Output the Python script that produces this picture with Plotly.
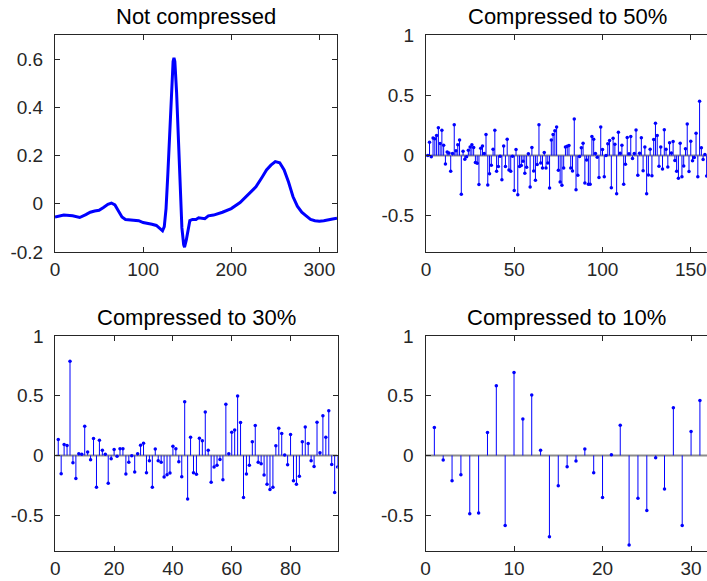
import plotly.graph_objects as go

# ---------------- data ----------------
ecg_x = [0, 5, 10, 20, 28, 35, 40, 45, 50, 55, 60, 64, 68, 72, 76, 80, 85, 90, 95, 100,
         105, 110, 115, 119, 122, 124, 126, 128, 130, 132, 134, 135, 136, 138, 140, 142,
         144, 146, 147, 149, 151, 153, 156, 160, 163, 166, 170, 174, 180, 190, 200, 210,
         220, 228, 235, 240, 245, 250, 255, 260, 265, 270, 275, 280, 285, 290, 295, 300,
         305, 310, 315, 320]
ecg_y = [-0.055, -0.05, -0.047, -0.05, -0.057, -0.045, -0.035, -0.03, -0.027, -0.015,
         -0.002, 0.003, -0.005, -0.03, -0.055, -0.065, -0.066, -0.066, -0.07, -0.078,
         -0.08, -0.085, -0.09, -0.105, -0.112, -0.095, -0.02, 0.12, 0.3, 0.47, 0.59, 0.605,
         0.59, 0.46, 0.25, 0.05, -0.1, -0.17, -0.18, -0.15, -0.1, -0.07, -0.065, -0.065,
         -0.058, -0.06, -0.062, -0.05, -0.047, -0.035, -0.02, 0.005, 0.04, 0.07, 0.11,
         0.14, 0.16, 0.175, 0.17, 0.14, 0.09, 0.03, -0.01, -0.035, -0.05, -0.065, -0.07,
         -0.072, -0.07, -0.065, -0.063, -0.06]

c50 = [0, 0.11, -0.01, 0.145, 0.14, 0.167, 0.23, 0.10, 0.21, 0.086,
       -0.07, 0.03, 0.022, -0.13, 0.017, 0.255, 0.04, 0.09, 0.13, -0.32,
       0.036, -0.03, -0.01, 0.044, 0.07, 0.09, 0.067, -0.058, -0.064, -0.24,
       0.06, 0.08, 0.017, 0.175, -0.245, -0.15, -0.08, 0.053, 0.21, -0.13,
       -0.09, -0.005, -0.2, 0.08, -0.09, 0.135, -0.12, -0.13, -0.005, -0.29,
       0.05, -0.325, -0.09, -0.083, -0.047, -0.147, -0.097, 0.014, -0.26, 0.067,
       -0.128, -0.205, -0.075, 0.255, -0.061, -0.103, 0.025, -0.103, -0.061, -0.27,
       0.13, 0.175, 0.205, 0.236, -0.122, -0.22, -0.247, -0.103, 0.07, 0.078,
       0.083, -0.103, -0.128, 0.303, -0.283, -0.164, -0.008, 0.064, 0.103, -0.228,
       -0.036, -0.239, -0.239, 0.158, 0.136, 0.017, -0.014, -0.183, 0.236, 0.05,
       -0.175, 0.0, 0.097, 0.125, -0.267, 0.144, 0.094, -0.317, 0.194, 0.019,
       0.086, -0.239, -0.072, 0.15, 0.014, 0.158, -0.025, 0.017, 0.211, -0.164,
       0.019, 0.147, -0.125, 0.072, -0.317, -0.161, 0.053, -0.167, 0.133, 0.267,
       0.167, -0.089, 0.072, -0.111, 0.214, 0.053, -0.094, 0.106, 0.022, 0.117,
       -0.042, -0.131, -0.189, 0.103, -0.175, -0.086, 0.056, 0.261, -0.133, 0.119,
       -0.044, -0.017, 0.186, -0.175, 0.45, 0.064, -0.033, 0.008, -0.169, -0.05]

c30 = [0.133, -0.153, 0.092, 0.083, 0.789, -0.061, -0.194, 0.014, 0.011, 0.244,
       0.028, -0.036, 0.142, -0.267, 0.128, 0.044, 0.011, -0.233, -0.028, 0.05,
       -0.006, 0.056, 0.056, -0.156, -0.058, -0.003, -0.139, 0.014, 0.086, 0.103,
       -0.144, -0.044, -0.267, 0.053, -0.044, -0.056, -0.181, -0.161, -0.147, 0.078,
       0.056, -0.053, -0.178, 0.45, -0.364, 0.153, -0.144, -0.158, 0.144, 0.122,
       0.364, 0.044, -0.225, -0.097, -0.083, -0.033, -0.203, 0.428, 0.014, 0.194,
       0.214, 0.497, 0.275, -0.353, -0.156, -0.083, 0.114, 0.25, -0.056, -0.069,
       -0.164, -0.242, -0.286, -0.267, 0.081, 0.228, 0.183, 0.003, -0.078, 0.175,
       -0.211, -0.242, -0.175, 0.114, 0.239, 0.1, -0.044, -0.092, 0.278, 0.022,
       0.333, 0.153, 0.375, -0.075, -0.311, -0.097]

c10 = [0.233, -0.039, -0.211, -0.161, -0.489, -0.481, 0.192, 0.583, -0.586, 0.694,
       0.306, 0.506, 0.044, -0.681, -0.253, -0.094, -0.047, 0.053, -0.144, -0.353,
       0.006, 0.253, -0.75, -0.358, -0.461, -0.019, -0.281, 0.4, -0.586, 0.2,
       0.461, -0.1]

titles = ["Not compressed", "Compressed to 50%", "Compressed to 30%", "Compressed to 10%"]

W, H = 707, 581
BLUE = "#0000ff"
FONT = "Liberation Sans, Arial, Helvetica, sans-serif"
AX = "#262626"

fig = go.Figure()

# ECG line
fig.add_trace(go.Scatter(x=ecg_x, y=ecg_y, mode="lines", line=dict(color=BLUE, width=3),
                         xaxis="x", yaxis="y", showlegend=False, hoverinfo="skip"))


def add_stem(vals, xa, ya, xmax):
    n = list(range(1, len(vals) + 1))
    sx, sy = [], []
    for i, v in zip(n, vals):
        sx += [i, i, None]
        sy += [0, v, None]
    fig.add_trace(go.Scatter(x=[0, xmax], y=[0, 0], mode="lines",
                             line=dict(color="#8c8c8c", width=2),
                             xaxis=xa, yaxis=ya, showlegend=False, hoverinfo="skip"))
    fig.add_trace(go.Scatter(x=sx, y=sy, mode="lines", line=dict(color=BLUE, width=1),
                             xaxis=xa, yaxis=ya, showlegend=False, hoverinfo="skip"))
    fig.add_trace(go.Scatter(x=n, y=vals, mode="markers",
                             marker=dict(color=BLUE, size=3.5),
                             xaxis=xa, yaxis=ya, showlegend=False, hoverinfo="skip"))


add_stem(c50, "x2", "y2", 160)
add_stem(c30, "x3", "y3", 96)
add_stem(c10, "x4", "y4", 32)

# pixel geometry -> paper domains
def xd(a, b):
    return [a / W, min(b / W, 1.0)]

def yd(top, bot):
    return [(H - bot) / H, (H - top) / H]

common_axis = dict(showgrid=False, zeroline=False, showline=True, linecolor=AX, linewidth=1,
                   ticks="inside", ticklen=5, tickcolor=AX, automargin=False,
                   tickfont=dict(family=FONT, size=19, color=AX))
yextra = dict(ticklabelstandoff=7)

yt1 = [-0.2, 0, 0.2, 0.4, 0.6]
yt1_txt = ["-0.2", "0", "0.2", "0.4", "0.6"]
yt2 = [-0.5, 0, 0.5, 1]
yt2_txt = ["-0.5", "0", "0.5", "1"]

fig.update_layout(
    width=W, height=H, autosize=False, margin=dict(l=0, r=0, t=0, b=0, pad=0),
    paper_bgcolor="white", plot_bgcolor="white",
    xaxis=dict(domain=xd(55, 337), range=[0, 320], anchor="y", mirror="ticks",
               tickvals=[0, 100, 200, 300], **common_axis),
    yaxis=dict(domain=yd(35, 252), range=[-0.2, 0.7], anchor="x", mirror="ticks",
               tickvals=yt1, ticktext=yt1_txt, **common_axis, **yextra),
    xaxis2=dict(domain=xd(426, 707), range=[0, 159.2], anchor="y2", mirror="ticks",
                tickvals=[0, 50, 100, 150], **common_axis),
    yaxis2=dict(domain=yd(35, 252), range=[-0.8, 1], anchor="x2", mirror=False,
                tickvals=yt2, ticktext=yt2_txt, **common_axis, **yextra),
    xaxis3=dict(domain=xd(55.3, 337.6), range=[0, 96], anchor="y3", mirror="ticks",
                tickvals=[0, 20, 40, 60, 80], **common_axis),
    yaxis3=dict(domain=yd(336, 551), range=[-0.8, 1], anchor="x3", mirror="ticks",
                tickvals=yt2, ticktext=yt2_txt, **common_axis, **yextra),
    xaxis4=dict(domain=xd(425.5, 707), range=[0, 31.8], anchor="y4", mirror="ticks",
                tickvals=[0, 10, 20, 30], **common_axis),
    yaxis4=dict(domain=yd(336, 551), range=[-0.8, 1], anchor="x4", mirror=False,
                tickvals=yt2, ticktext=yt2_txt, **common_axis, **yextra),
)

title_pos = [((55 + 337) / 2, 16), ((426 + 708) / 2, 16), ((55 + 337.6) / 2, 317),
             ((425.5 + 708) / 2, 317)]
for t, (px, py) in zip(titles, title_pos):
    fig.add_annotation(text=t, x=px / W, y=(H - py) / H, xref="paper", yref="paper",
                       showarrow=False, xanchor="center", yanchor="middle",
                       font=dict(family=FONT, size=22, color="#000000"))

fig.write_html("out.html", config={"responsive": False, "displayModeBar": False},
               post_script="document.body.style.margin='0';document.body.style.overflow='hidden';")
